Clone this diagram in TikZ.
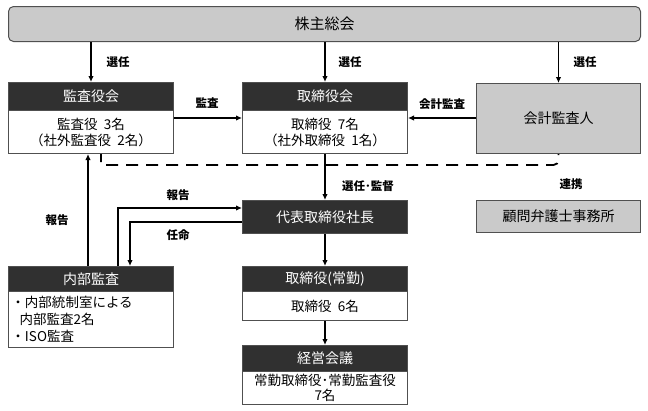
\documentclass[tikz,border=0pt]{standalone}
\usepackage{fontspec}
\setmainfont{Noto Sans CJK JP}
\usetikzlibrary{arrows.meta,positioning,calc}
\definecolor{darkhdr}{HTML}{303030}
\definecolor{graybox}{HTML}{CACACA}
\definecolor{edge}{HTML}{505050}
\newcommand{\gp}{\hspace{0.45em}}
\begin{document}
\begin{tikzpicture}[x=1pt,y=-1pt,
  base/.style={draw=edge,line width=1pt,inner sep=0pt,anchor=north west,minimum width=165pt,align=center},
  hdr/.style={base,fill=darkhdr,text=white,font=\fontsize{14}{16}\selectfont},
  bodybox/.style={base,fill=white,font=\fontsize{13.5}{16}\selectfont},
  graynode/.style={base,fill=graybox,font=\fontsize{14}{16}\selectfont},
  arr/.style={line width=1.4pt,-{Latex[length=6pt,width=5.5pt]}},
  lbl/.style={font=\bfseries\fontsize{11.5}{13}\selectfont,inner sep=1pt},
  dashline/.style={line width=1.8pt,dash pattern=on 12pt off 8pt,dash phase=4pt}
]
\useasboundingbox (0,0) rectangle (648,410);
% nodes
\node[graynode,rounded corners=5pt,minimum width=632pt,minimum height=35pt,font=\fontsize{15}{17}\selectfont] (kabu) at (8,6) {株主総会};
\node[hdr,minimum height=28pt] (kansah) at (8,82) {監査役会};
\node[bodybox,minimum height=43pt] (kansa) at (8,110) {監査役\gp 3名\\（社外監査役\gp 2名）};
\node[hdr,minimum height=28pt] (torih) at (242,82) {取締役会};
\node[bodybox,minimum height=43pt] (tori) at (242,110) {取締役\gp 7名\\（社外取締役\gp 1名）};
\node[graynode,minimum width=164pt,minimum height=70pt] (kaikei) at (476,83) {会計監査人};
\node[graynode,minimum width=164pt,minimum height=32pt] (komon) at (476,200) {顧問弁護士事務所};
\node[hdr,minimum height=33pt] (daihyo) at (242,200) {代表取締役社長};
\node[hdr,minimum height=25pt] (naibuh) at (8,266) {内部監査};
\node[bodybox,minimum height=56pt,align=left,text width=159pt,inner xsep=3pt,font=\fontsize{13.5}{17}\selectfont] (naibu) at (8,291) {・内部統制室による\\\hspace{0.6em}内部監査2名\\・ISO監査};
\node[hdr,minimum height=25pt] (jokinh) at (242,266) {取締役(常勤)};
\node[bodybox,minimum height=29pt] (jokin) at (242,291) {取締役\gp 6名};
\node[hdr,minimum height=26pt] (keieih) at (242,345) {経営会議};
\node[bodybox,minimum height=33pt,font=\fontsize{13.5}{14.5}\selectfont] (keiei) at (242,371) {常勤取締役･常勤監査役\\7名};
% helper coordinates
\coordinate (ya) at (0,118);
\coordinate (yb) at (0,208);
\coordinate (yc) at (0,222);
\coordinate (xa) at (88,0);
\coordinate (xb) at (118,0);
\coordinate (xc) at (130,0);
\coordinate (xd) at (101,0);
\coordinate (dl) at (0,165);
% connectors
\draw[arr] (kabu.south -| kansah.north) -- (kansah.north);
\draw[arr] (kabu.south -| torih.north) -- (torih.north);
\draw[arr] (kabu.south -| kaikei.north) -- (kaikei.north);
\draw[arr] (kansa.east |- ya) -- (tori.west |- ya);
\draw[arr] (kaikei.west |- ya) -- (tori.east |- ya);
\draw[arr] (tori.south) -- (daihyo.north);
\draw[arr] (daihyo.south) -- (jokinh.north);
\draw[arr] (jokin.south) -- (keieih.north);
\draw[arr] (naibuh.north -| xa) -- (kansa.south -| xa);
\draw[arr] (naibuh.north -| xb) |- (daihyo.west |- yb);
\draw[arr] (daihyo.west |- yc) -| (naibuh.north -| xc);
\draw[dashline] (kansa.south -| xd) -- (dl -| xd) [rounded corners=5pt] -- (dl -| kaikei.south) -- (kaikei.south);
% labels
\node[lbl] (l1) at (118,62) {選任};
\node[lbl] (l2) at (350,62) {選任};
\node[lbl] (l3) at (585,62) {選任};
\node[lbl] (l4) at (207,103) {監査};
\node[lbl] (l5) at (442,104) {会計監査};
\node[lbl] (l6) at (368,186) {選任･監督};
\node[lbl] (l7) at (571,184) {連携};
\node[lbl] (l8) at (178,195) {報告};
\node[lbl] (l9) at (178,235) {任命};
\node[lbl] (l10) at (57,220) {報告};
\end{tikzpicture}
\end{document}
